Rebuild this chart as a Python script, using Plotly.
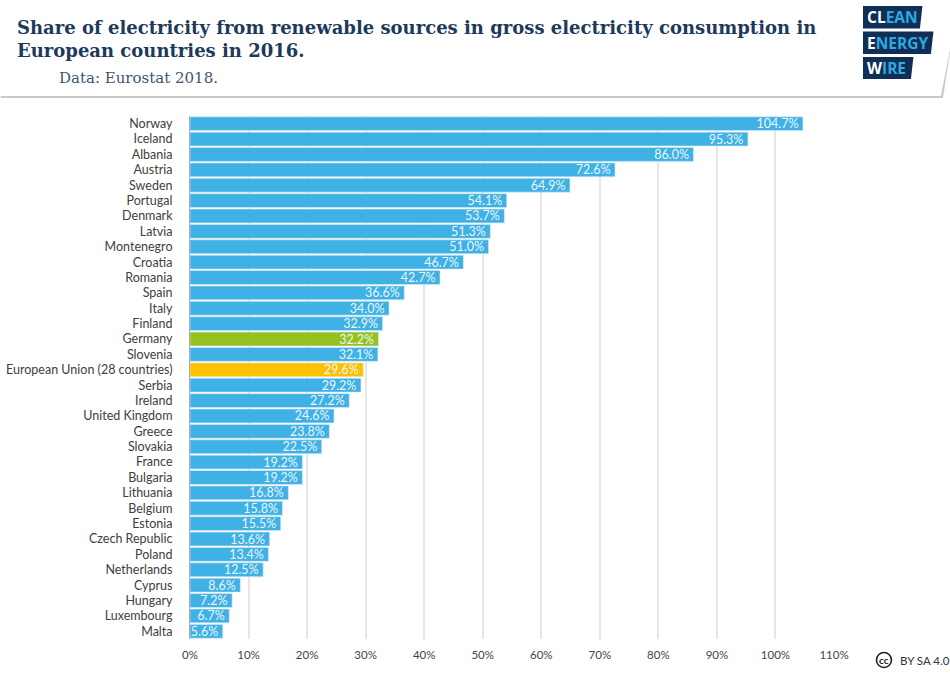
import plotly.graph_objects as go

countries = ["Norway","Iceland","Albania","Austria","Sweden","Portugal","Denmark","Latvia","Montenegro","Croatia",
             "Romania","Spain","Italy","Finland","Germany","Slovenia","European Union (28 countries)","Serbia","Ireland",
             "United Kingdom","Greece","Slovakia","France","Bulgaria","Lithuania","Belgium","Estonia","Czech Republic",
             "Poland","Netherlands","Cyprus","Hungary","Luxembourg","Malta"]
shares = [104.7,95.3,86.0,72.6,64.9,54.1,53.7,51.3,51.0,46.7,42.7,36.6,34.0,32.9,32.2,32.1,29.6,29.2,27.2,
          24.6,23.8,22.5,19.2,19.2,16.8,15.8,15.5,13.6,13.4,12.5,8.6,7.2,6.7,5.6]
highlight = {"Germany": "#95C11F", "European Union (28 countries)": "#FFC000"}
x_ticks = [0,10,20,30,40,50,60,70,80,90,100,110]

W, H = 950, 681
L, R, T, B = 189.5, 834, 116, 639
BLUE = "#3FB1E5"
NAVY = "#0F2F57"
colors = [highlight.get(c, BLUE) for c in countries]

fig = go.Figure(go.Bar(
    y=countries, x=shares, orientation="h",
    marker=dict(color=colors, line=dict(color="#DCEFF9", width=0.6)),
    text=[f"{v:.1f}%\u2009" for v in shares], textposition="inside", insidetextanchor="end",
    textangle=0, constraintext="none",
    textfont=dict(family="Lato", size=12.5, color="#EAF6FC"),
    hoverinfo="skip", width=0.9,
))

def px(x): return (x - L) / (R - L)
def py(y): return (B - y) / (B - T)

def poly(points, fill, line=None, lw=0, layer="above"):
    path = "M " + " L ".join(f"{px(a):.5f},{py(b):.5f}" for a, b in points) + " Z"
    return dict(type="path", xref="paper", yref="paper", path=path, fillcolor=fill,
                line=dict(color=line or fill, width=lw), layer=layer)

shapes = [
    poly([(0,96),(941,96),(950,50),(950,53),(943,98),(0,98)], "#C9C9C9"),
    poly([(863,6),(922.5,6),(920,28.5),(863,28.5)], NAVY),
    poly([(863,31.5),(933.5,31.5),(931,54),(863,54)], NAVY),
    poly([(863,57),(913.5,57),(911,79),(863,79)], NAVY),
    dict(type="circle", xref="paper", yref="paper", x0=px(876.5), x1=px(891.5),
         y0=py(667.5), y1=py(652.5), line=dict(color="#222222", width=1.6)),
]

def note(text, x, y, size, family, color, anchor="left", vanchor="middle"):
    return dict(text=text, xref="paper", yref="paper", x=px(x), y=py(y), xanchor=anchor, yanchor=vanchor,
                showarrow=False, align="left", borderpad=0, font=dict(family=family, size=size, color=color))

SKY = "#2FA9E0"
annots = [
    note("<b>Share of electricity from renewable sources in gross electricity consumption in</b>",
         15.5, 27.5, 18, "DejaVu Serif", "#1D3A5C"),
    note("<b>European countries in 2016.</b>", 15.5, 50, 18, "DejaVu Serif", "#1D3A5C"),
    note("Data: Eurostat 2018.", 57, 78, 15, "DejaVu Serif", "#3E5570"),
    note(f"<b>CL<span style='color:{SKY}'>EAN</span></b>", 866, 17.5, 15.5, "Open Sans", "#FFFFFF"),
    note(f"<b>E<span style='color:{SKY}'>NERGY</span></b>", 866, 43, 15.5, "Open Sans", "#FFFFFF"),
    note(f"<b>W<span style='color:{SKY}'>IRE</span></b>", 866, 68, 15.5, "Open Sans", "#FFFFFF"),
    note("<b>cc</b>", 884, 659.5, 10, "Lato", "#222222", anchor="center"),
    note("BY SA 4.0", 899, 660.5, 11.5, "Lato", "#333333"),
]

fig.update_layout(
    width=W, height=H, autosize=False,
    margin=dict(l=L, r=W-R, t=T, b=H-B, autoexpand=False),
    paper_bgcolor="white", plot_bgcolor="white",
    bargap=0.1, showlegend=False,
    shapes=shapes, annotations=annots,
    xaxis=dict(range=[0,110], tickvals=x_ticks, ticktext=[f"{t}%" for t in x_ticks],
               showgrid=True, gridcolor="#E6E6E6", gridwidth=1.5, zeroline=False,
               showline=False, ticks="", ticklen=0,
               tickfont=dict(family="Lato", size=11.5, color="#444444"), automargin=False),
    yaxis=dict(autorange="reversed", showgrid=False, zeroline=False, showline=True,
               linecolor="#A9A9A9", linewidth=1, ticks="", dtick=1,
               tickfont=dict(family="Lato", size=12.5, color="#404040"), automargin=False),
)
fig.update_xaxes(ticklabelstandoff=7)
fig.update_yaxes(ticklabelstandoff=14)

fig.write_html("out.html", config=dict(displayModeBar=False),
               post_script="document.body.style.margin='0';")
